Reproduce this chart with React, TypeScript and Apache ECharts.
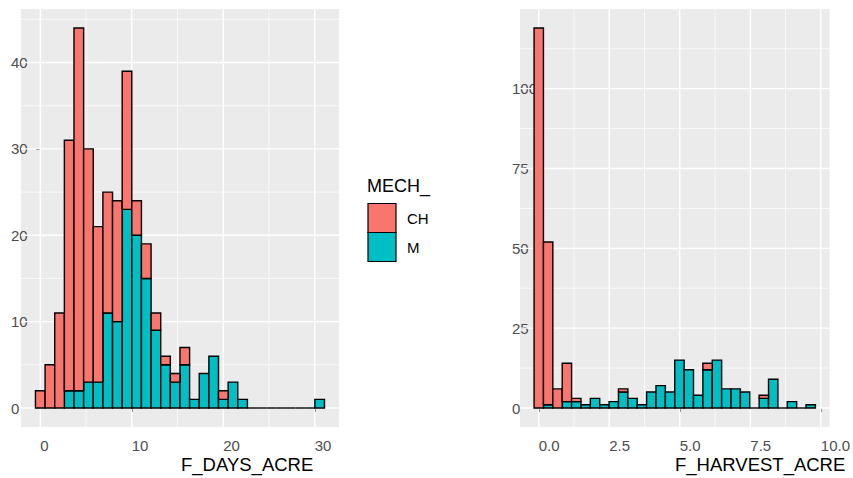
import React, { useEffect, useRef } from "react";
import * as echarts from "echarts";

const FONT = '"Liberation Sans", Arial, Helvetica, sans-serif';
const RED = "#F8766D";
const TEAL = "#00BFC4";

// ---- Left histogram: F_DAYS_ACRE (30 bins) ----
const daysBinWidth = 1.053;
const daysFirstCenter = 0;
const daysCH = [2, 5, 11, 29, 42, 27, 18, 14, 14, 16, 4, 4, 2, 1, 1, 2, 0, 0, 0, 1, 0, 0, 0, 0, 0, 0, 0, 0, 0, 0];
const daysM = [0, 0, 0, 2, 2, 3, 3, 11, 10, 23, 20, 15, 9, 5, 3, 5, 1, 4, 6, 1, 3, 1, 0, 0, 0, 0, 0, 0, 0, 1];
const daysXTicks = [0, 10, 20, 30];
const daysXMinor = [5, 15, 25];
const daysYTicks = [0, 10, 20, 30, 40];
const daysYMinor = [5, 15, 25, 35, 45];

// ---- Right histogram: F_HARVEST_ACRE (30 bins) ----
const harvestBinWidth = 0.3325;
const harvestFirstCenter = 0;
const harvestCH = [119, 51, 6, 12, 1, 0, 0, 0, 0, 1, 0, 0, 0, 0, 0, 0, 0, 0, 2, 0, 0, 0, 0, 0, 1, 0, 0, 0, 0, 0];
const harvestM = [0, 1, 0, 2, 2, 1, 3, 1, 2, 5, 3, 1, 5, 7, 5, 15, 12, 4, 12, 15, 6, 6, 5, 0, 3, 9, 0, 2, 0, 1];
const harvestXTicks = [0, 2.5, 5, 7.5, 10];
const harvestXTickLabels = ["0.0", "2.5", "5.0", "7.5", "10.0"];
const harvestXMinor = [1.25, 3.75, 6.25, 8.75];
const harvestYTicks = [0, 25, 50, 75, 100];
const harvestYMinor = [12.5, 37.5, 62.5, 87.5, 112.5];

const legendTitle = "MECH_";
const legendItems = ["CH", "M"];

type Item = [number, number, number, number];

function buildItems(ch: number[], m: number[], w: number, c0: number) {
  const chItems: Item[] = [];
  const mItems: Item[] = [];
  const zeroItems: Item[] = [];
  for (let i = 0; i < ch.length; i++) {
    const x0 = c0 + (i - 0.5) * w;
    const x1 = c0 + (i + 0.5) * w;
    if (m[i] > 0) mItems.push([x0, x1, 0, m[i]]);
    if (ch[i] > 0) chItems.push([x0, x1, m[i], m[i] + ch[i]]);
    if (ch[i] + m[i] === 0) zeroItems.push([x0, x1, 0, 0]);
  }
  return { chItems, mItems, zeroItems };
}

function rectSeries(name: string, idx: number, data: Item[], fill: string) {
  return {
    type: "custom",
    name,
    xAxisIndex: idx,
    yAxisIndex: idx,
    z: 5,
    encode: { x: [0, 1], y: [2, 3] },
    data,
    renderItem: (params: any, api: any) => {
      const p0 = api.coord([api.value(0), api.value(3)]);
      const p1 = api.coord([api.value(1), api.value(2)]);
      return {
        type: "rect",
        shape: { x: p0[0], y: p0[1], width: p1[0] - p0[0], height: p1[1] - p0[1] },
        style: { fill, stroke: "#000000", lineWidth: 1.4 },
      };
    },
  };
}

function zeroSeries(idx: number, data: Item[]) {
  return {
    type: "custom",
    name: "zero",
    xAxisIndex: idx,
    yAxisIndex: idx,
    z: 5,
    encode: { x: [0, 1], y: [2, 3] },
    data,
    renderItem: (params: any, api: any) => {
      const p0 = api.coord([api.value(0), 0]);
      const p1 = api.coord([api.value(1), 0]);
      return {
        type: "line",
        shape: { x1: p0[0], y1: p0[1], x2: p1[0], y2: p1[1] },
        style: { stroke: "#000000", lineWidth: 1.4 },
      };
    },
  };
}

function gridSeries(idx: number, vertical: boolean, values: number[], anchor: number, width: number) {
  return {
    type: "custom",
    name: "grid",
    xAxisIndex: idx,
    yAxisIndex: idx,
    z: 1,
    silent: true,
    data: values.map((v) => (vertical ? [v, anchor] : [anchor, v])),
    renderItem: (params: any, api: any) => {
      const cs = params.coordSys;
      const p = api.coord([api.value(0), api.value(1)]);
      const shape = vertical
        ? { x1: p[0], y1: cs.y, x2: p[0], y2: cs.y + cs.height }
        : { x1: cs.x, y1: p[1], x2: cs.x + cs.width, y2: p[1] };
      return { type: "line", shape, style: { stroke: "#FFFFFF", lineWidth: width } };
    },
  };
}

const App: React.FC = () => {
  const ref = useRef<HTMLDivElement>(null);

  useEffect(() => {
    if (!ref.current) return;
    const chart = echarts.init(ref.current, undefined, { renderer: "svg" });

    const L = buildItems(daysCH, daysM, daysBinWidth, daysFirstCenter);
    const R = buildItems(harvestCH, harvestM, harvestBinWidth, harvestFirstCenter);

    const tickStyle = { show: true, length: 4, lineStyle: { color: "#333333", width: 1 } };
    const labelBase = { color: "#4D4D4D", fontSize: 15, fontFamily: FONT };

    const option: any = {
      animation: false,
      backgroundColor: "#FFFFFF",
      grid: [
        { left: 21, top: 9, width: 318, height: 418, show: true, backgroundColor: "#EBEBEB", borderWidth: 0 },
        { left: 520, top: 9, width: 310, height: 418, show: true, backgroundColor: "#EBEBEB", borderWidth: 0 },
      ],
      xAxis: [
        {
          type: "value",
          gridIndex: 0,
          min: -2.107,
          max: 32.65,
          splitLine: { show: false },
          axisLine: { show: false },
          axisTick: { ...tickStyle, customValues: daysXTicks },
          axisLabel: { ...labelBase, customValues: daysXTicks, align: "left", margin: 11 },
        },
        {
          type: "value",
          gridIndex: 1,
          min: -0.665,
          max: 10.31,
          splitLine: { show: false },
          axisLine: { show: false },
          axisTick: { ...tickStyle, customValues: harvestXTicks },
          axisLabel: {
            ...labelBase,
            customValues: harvestXTicks,
            align: "left",
            margin: 11,
            formatter: (v: number) => {
              const i = harvestXTicks.indexOf(v);
              return i >= 0 ? harvestXTickLabels[i] : String(v);
            },
          },
        },
      ],
      yAxis: [
        {
          type: "value",
          gridIndex: 0,
          min: -2.2,
          max: 46.2,
          splitLine: { show: false },
          axisLine: { show: false },
          axisTick: { ...tickStyle, customValues: daysYTicks },
          axisLabel: { ...labelBase, customValues: daysYTicks, align: "left", margin: 10, padding: [6, 0, 0, 0] },
        },
        {
          type: "value",
          gridIndex: 1,
          min: -5.95,
          max: 124.95,
          splitLine: { show: false },
          axisLine: { show: false },
          axisTick: { ...tickStyle, customValues: harvestYTicks },
          axisLabel: { ...labelBase, customValues: harvestYTicks, align: "left", margin: 8, padding: [6, 0, 0, 0] },
        },
      ],
      series: [
        gridSeries(0, true, daysXMinor, 0, 0.7),
        gridSeries(0, false, daysYMinor, 0, 0.7),
        gridSeries(0, true, daysXTicks, 0, 1.4),
        gridSeries(0, false, daysYTicks, 0, 1.4),
        gridSeries(1, true, harvestXMinor, 0, 0.7),
        gridSeries(1, false, harvestYMinor, 0, 0.7),
        gridSeries(1, true, harvestXTicks, 0, 1.4),
        gridSeries(1, false, harvestYTicks, 0, 1.4),
        rectSeries("M", 0, L.mItems, TEAL),
        rectSeries("CH", 0, L.chItems, RED),
        zeroSeries(0, L.zeroItems),
        rectSeries("M", 1, R.mItems, TEAL),
        rectSeries("CH", 1, R.chItems, RED),
        zeroSeries(1, R.zeroItems),
      ],
      graphic: [
        {
          type: "text",
          left: 181,
          top: 455,
          style: { text: "F_DAYS_ACRE", fill: "#000000", fontSize: 18.5, fontFamily: FONT },
        },
        {
          type: "text",
          left: 675,
          top: 455,
          style: { text: "F_HARVEST_ACRE", fill: "#000000", fontSize: 18.5, fontFamily: FONT },
        },
        {
          type: "text",
          left: 367,
          top: 177,
          style: { text: legendTitle, fill: "#000000", fontSize: 18, fontFamily: FONT },
        },
        {
          type: "rect",
          shape: { x: 368, y: 203.5, width: 28, height: 29 },
          style: { fill: RED, stroke: "#000000", lineWidth: 1.2 },
        },
        {
          type: "rect",
          shape: { x: 368, y: 232.5, width: 28, height: 29 },
          style: { fill: TEAL, stroke: "#000000", lineWidth: 1.2 },
        },
        {
          type: "text",
          left: 407,
          top: 211,
          style: { text: legendItems[0], fill: "#000000", fontSize: 15, fontFamily: FONT },
        },
        {
          type: "text",
          left: 407,
          top: 240,
          style: { text: legendItems[1], fill: "#000000", fontSize: 15, fontFamily: FONT },
        },
      ],
    };

    chart.setOption(option);
    return () => chart.dispose();
  }, []);

  return <div ref={ref} style={{ width: 853, height: 478, position: "absolute", left: 0, top: 0 }} />;
};

export default App;
